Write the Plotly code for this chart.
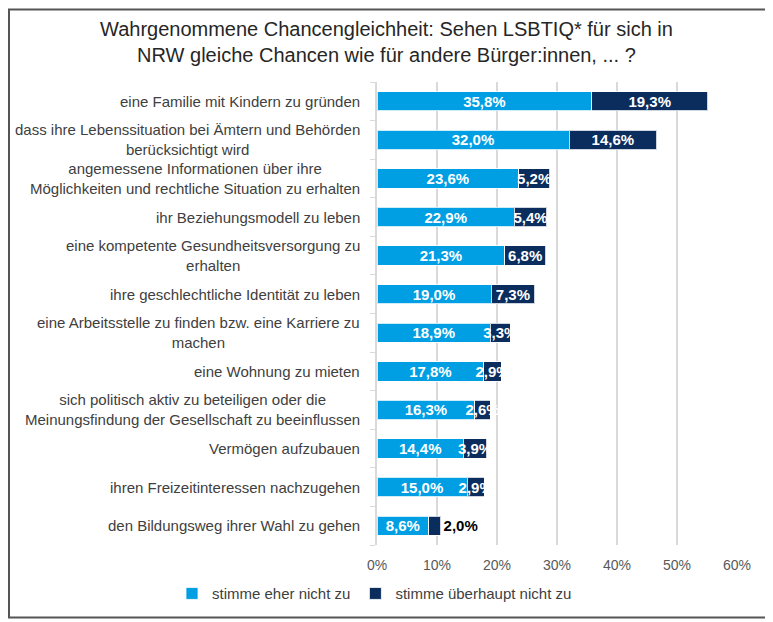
import plotly.graph_objects as go

# items, top to bottom
CATEGORIES = [
    "eine Familie mit Kindern zu gründen",
    "dass ihre Lebenssituation bei Ämtern und Behörden<br>berücksichtigt wird",
    "angemessene Informationen über ihre<br>Möglichkeiten und rechtliche Situation zu erhalten",
    "ihr Beziehungsmodell zu leben",
    "eine kompetente Gesundheitsversorgung zu<br>erhalten",
    "ihre geschlechtliche Identität zu leben",
    "eine Arbeitsstelle zu finden bzw. eine Karriere zu<br>machen",
    "eine Wohnung zu mieten",
    "sich politisch aktiv zu beteiligen oder die<br>Meinungsfindung der Gesellschaft zu beeinflussen",
    "Vermögen aufzubauen",
    "ihren Freizeitinteressen nachzugehen",
    "den Bildungsweg ihrer Wahl zu gehen",
]
EHER_NICHT = [35.8, 32.0, 23.6, 22.9, 21.3, 19.0, 18.9, 17.8, 16.3, 14.4, 15.0, 8.6]
UEBERHAUPT_NICHT = [19.3, 14.6, 5.2, 5.4, 6.8, 7.3, 3.3, 2.9, 2.6, 3.9, 2.9, 2.0]
SERIES_NAMES = ["stimme eher nicht zu", "stimme überhaupt nicht zu"]
X_TICKS = [0, 10, 20, 30, 40, 50, 60]
X_TICKTEXT = ["0%", "10%", "20%", "30%", "40%", "50%", "60%"]

TITLE = ("Wahrgenommene Chancengleichheit: Sehen LSBTIQ* für sich in<br>"
         "NRW gleiche Chancen wie für andere Bürger:innen, ... ?")

LIGHT = "#009fe3"
DARK = "#0b2d5e"
GRID = "#d9d9d9"
FONT = "Liberation Sans, Arial, sans-serif"

# the page body adds 8px around the figure, so the figure is 16px smaller
W, H = 765, 614
M_L, M_R, M_T, M_B = 369, 36, 74, 74
PW, PH = W - M_L - M_R, H - M_T - M_B
PB = H - M_B  # plot bottom in figure pixels


def pct(v):
    return f"{v:.1f}%".replace(".", ",")


def px_x(px):
    return (px - M_L) / PW


def px_y(py):
    return (PB - py) / PH


ypos = list(range(len(CATEGORIES)))

fig = go.Figure()
fig.add_trace(go.Bar(
    y=ypos, x=EHER_NICHT, orientation="h", name=SERIES_NAMES[0],
    marker=dict(color=LIGHT, line=dict(color="rgba(255,255,255,0.8)", width=1)),
    width=0.5, text=[pct(v) for v in EHER_NICHT], textposition="inside",
    insidetextanchor="middle", textangle=0,
    textfont=dict(family=FONT, size=15, color="white", weight="bold"),
))
# last value sits outside the bar, in black
positions = ["inside"] * (len(UEBERHAUPT_NICHT) - 1) + ["outside"]
fig.add_trace(go.Bar(
    y=ypos, x=UEBERHAUPT_NICHT, orientation="h", name=SERIES_NAMES[1],
    marker=dict(color=DARK, line=dict(color="rgba(255,255,255,0.8)", width=1)),
    width=0.5, text=[pct(v) for v in UEBERHAUPT_NICHT], textposition=positions,
    insidetextanchor="middle", textangle=0,
    insidetextfont=dict(family=FONT, size=15, color="white", weight="bold"),
    outsidetextfont=dict(family=FONT, size=15, color="#000000", weight="bold"),
    cliponaxis=False,
))

# category labels as annotations so wrapped lines are centred like the original
annotations = [
    dict(text=c, xref="paper", x=0, xshift=-15, xanchor="right",
         yref="y", y=i, yanchor="middle", align="center", showarrow=False,
         font=dict(family=FONT, size=15, color="#404040"))
    for i, c in enumerate(CATEGORIES)
]

annotations.append(dict(
    text=TITLE, xref="paper", x=px_x(378), xanchor="center",
    yref="paper", y=px_y(8), yanchor="top", align="center", showarrow=False,
    font=dict(family=FONT, size=20, color="#262626")))

# frame around the whole chart
frame = dict(
    type="rect", xref="paper", yref="paper",
    x0=px_x(1), x1=px_x(W - 1), y0=px_y(H - 1), y1=px_y(1),
    line=dict(color="#555555", width=2), fillcolor="rgba(0,0,0,0)",
)

fig.update_layout(
    width=W, height=H,
    margin=dict(l=M_L, r=M_R, t=M_T, b=M_B),
    barmode="stack",
    paper_bgcolor="white", plot_bgcolor="white",
    font=dict(family=FONT, color="#404040"),
    xaxis=dict(range=[0, 60], tickvals=X_TICKS, ticktext=X_TICKTEXT,
               showgrid=True, gridcolor=GRID, gridwidth=1.5, zeroline=False,
               showline=False, ticks="", ticklabelstandoff=10,
               tickfont=dict(size=14, color="#595959")),
    yaxis=dict(range=[len(CATEGORIES) - 0.5, -0.5],
               tickvals=[i - 0.5 for i in range(len(CATEGORIES) + 1)],
               showticklabels=False, ticks="outside", ticklen=5, tickcolor=GRID,
               showline=True, linecolor=GRID, linewidth=1.5,
               showgrid=False, zeroline=False),
    uniformtext=dict(minsize=15, mode="show"),
    legend=dict(orientation="h", xref="paper", x=px_x(164), xanchor="left",
                yref="paper", y=px_y(589), yanchor="middle",
                font=dict(family=FONT, size=15, color="#404040"),
                traceorder="normal"),
    annotations=annotations,
    shapes=[frame],
)

fig.write_html("out.html")
